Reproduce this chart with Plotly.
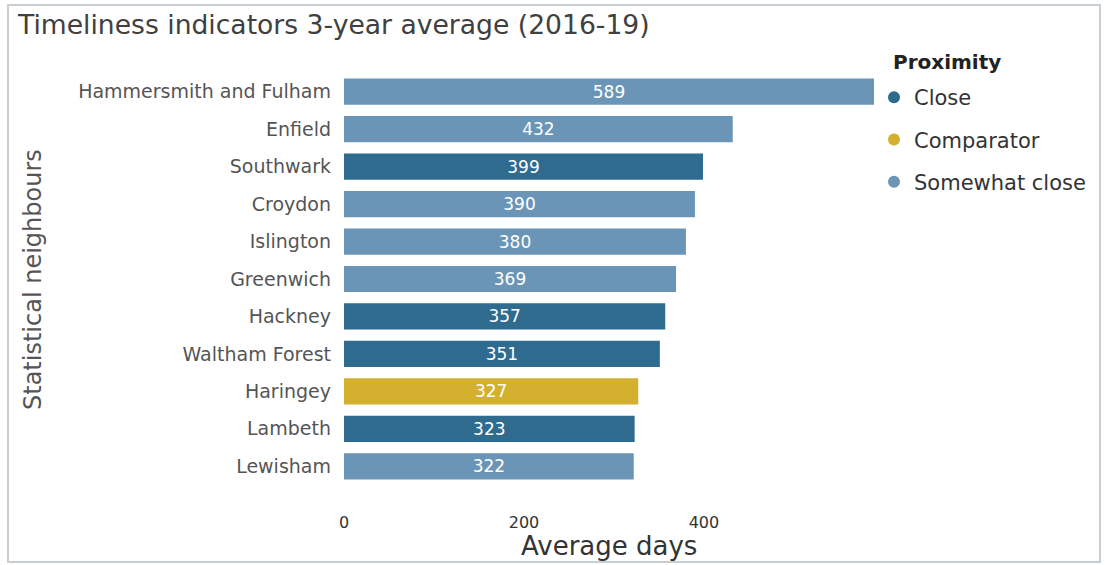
import plotly.graph_objects as go

categories = ["Hammersmith and Fulham", "Enfield", "Southwark", "Croydon", "Islington",
              "Greenwich", "Hackney", "Waltham Forest", "Haringey", "Lambeth", "Lewisham"]
values = [589, 432, 399, 390, 380, 369, 357, 351, 327, 323, 322]
proximity = ["Somewhat close", "Somewhat close", "Close", "Somewhat close", "Somewhat close",
             "Somewhat close", "Close", "Close", "Comparator", "Close", "Somewhat close"]
groups = ["Close", "Comparator", "Somewhat close"]
colors = {"Close": "#2f6a8f", "Comparator": "#d3b02e", "Somewhat close": "#6b95b6"}
x_ticks = [0, 200, 400]

FONT = "DejaVu Sans"

fig = go.Figure()
for g in groups:
    xs = [v for v, p in zip(values, proximity) if p == g]
    ys = [c for c, p in zip(categories, proximity) if p == g]
    fig.add_trace(go.Bar(
        x=xs, y=ys, orientation="h", marker_color=colors[g], marker_line_width=0,
        text=[str(v) for v in xs], textposition="inside", insidetextanchor="middle",
        textfont=dict(color="white", size=17, family=FONT),
        showlegend=False, hoverinfo="skip"))
for g in groups:
    fig.add_trace(go.Scatter(
        x=[None], y=[None], mode="markers", name=g, legendgroup=g,
        marker=dict(symbol="circle", size=11, color=colors[g])))

fig.update_layout(
    width=1105, height=565,
    margin=dict(l=344, r=231, t=73, b=80),
    paper_bgcolor="white", plot_bgcolor="white",
    barmode="relative", bargap=0.3,
    title=dict(text="Timeliness indicators 3-year average (2016-19)",
               x=18/1105, xanchor="left", y=1 - 25/565, yanchor="middle",
               font=dict(family=FONT, size=26.6, color="#404040")),
    xaxis=dict(range=[0, 589], tickvals=x_ticks, showgrid=False, zeroline=False,
               showline=False, ticks="", ticklabelstandoff=26,
               tickfont=dict(family=FONT, size=16, color="#333333"),
               fixedrange=True),
    yaxis=dict(categoryorder="array", categoryarray=categories, autorange="reversed",
               showgrid=False, zeroline=False, showline=False, ticks="",
               ticklabelstandoff=12,
               tickfont=dict(family=FONT, size=19, color="#555555")),
    legend=dict(x=(874 - 344) / 530, xanchor="left", y=(485 - 77) / 412, yanchor="top",
                font=dict(family=FONT, size=21, color="#333333"),
                tracegroupgap=12, itemsizing="constant", itemwidth=30,
                bgcolor="rgba(0,0,0,0)"),
    annotations=[
        dict(text="<b>Proximity</b>", xref="paper", yref="paper",
             x=(891 - 344) / 530, y=(485 - 62) / 412, xanchor="left", yanchor="middle",
             showarrow=False, font=dict(family=FONT, size=20, color="#222222")),
        dict(text="Average days", xref="paper", yref="paper",
             x=(609 - 344) / 530, y=(485 - 546) / 412, xanchor="center", yanchor="middle",
             showarrow=False, font=dict(family=FONT, size=26, color="#333333")),
        dict(text="Statistical neighbours", xref="paper", yref="paper",
             x=(33 - 344) / 530, y=(485 - 280) / 412, xanchor="center", yanchor="middle",
             textangle=-90, showarrow=False,
             font=dict(family=FONT, size=24, color="#555555")),
    ],
    shapes=[dict(type="rect", xref="paper", yref="paper",
                 x0=(8 - 344) / 530, x1=(1100 - 344) / 530,
                 y0=(485 - 562) / 412, y1=(485 - 5) / 412,
                 line=dict(color="#c8cfd4", width=2), fillcolor="rgba(0,0,0,0)", layer="below")],
)

fig.write_html("out.html")
